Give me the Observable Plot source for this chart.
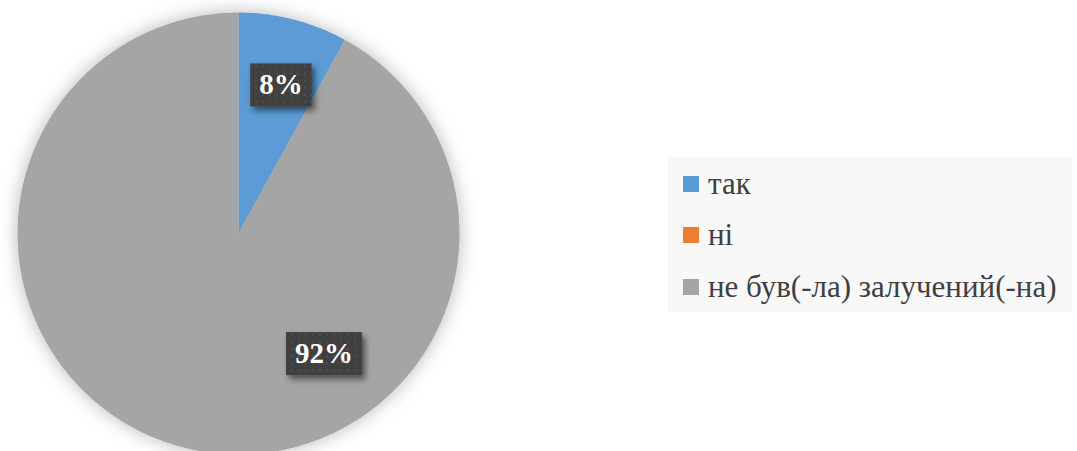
<!DOCTYPE html>
<html>
<head>
<meta charset="utf-8">
<script src="https://cdn.jsdelivr.net/npm/d3@7"></script>
<script src="https://cdn.jsdelivr.net/npm/@observablehq/plot@0.6"></script>
<style>
  html, body { margin: 0; padding: 0; background: #fff; }
  #wrap { position: relative; width: 1077px; height: 451px; overflow: hidden; }
  #legend {
    position: absolute; left: 668px; top: 157px; width: 404px; height: 155px;
    background: #f8f8f8; font-family: 'Liberation Serif';
    font-size: 31px; color: #404040;
  }
  .item { position: absolute; left: 15px; height: 30px; display: flex; align-items: center; white-space: nowrap; }
  .sw { width: 16px; height: 16px; margin-right: 9px; flex: none; }
</style>
</head>
<body>
<div id="wrap"></div>
<script>
const categories = ["так", "ні", "не був(-ла) залучений(-на)"];
const values = [8, 0, 92];
const colors = ["#5B9BD5", "#ED7D31", "#A5A5A5"];

// slice polygons derived from the values
const arcs = d3.pie().sort(null).value(d => d.value)(categories.map((c, i) => ({cat: c, value: values[i]})));
const pts = [];
for (const a of arcs) {
  if (a.endAngle - a.startAngle <= 0) continue;
  pts.push({cat: a.data.cat, x: 0, y: 0});
  const n = Math.max(2, Math.ceil((a.endAngle - a.startAngle) / (Math.PI / 360)));
  for (let k = 0; k <= n; k++) {
    const t = a.startAngle + (a.endAngle - a.startAngle) * k / n;
    pts.push({cat: a.data.cat, x: Math.sin(t), y: Math.cos(t)});
  }
  pts.push({cat: a.data.cat, x: 0, y: 0});
}
const total = d3.sum(values);
const labelData = arcs.filter(a => a.data.value > 0).map(a => {
  const m = (a.startAngle + a.endAngle) / 2;
  return {cat: a.data.cat, x: 0.7 * Math.sin(m), y: 0.7 * Math.cos(m), text: Math.round(a.data.value / total * 100) + "%"};
});

const textOpts = {x: "x", y: "y", text: "text", fill: "white", fontWeight: "bold", fontSize: 29,
  fontFamily: "Liberation Serif"};

const svg = Plot.plot({
  width: 1077, height: 451, margin: 0,
  style: {overflow: "visible", background: "transparent"},
  x: {domain: [-1, 1], range: [17, 459], axis: null},
  y: {domain: [-1, 1], range: [454, 12], axis: null},
  color: {domain: categories, range: colors},
  marks: [
    Plot.line(pts, {x: "x", y: "y", z: "cat", fill: "cat", stroke: null, curve: "linear"}),
    Plot.text(labelData.filter(d => d.cat === categories[0]), {...textOpts, dx: 4, dy: 1}),
    Plot.text(labelData.filter(d => d.cat === categories[2]), {...textOpts, dx: 124, dy: -30})
  ]
});

document.getElementById("wrap").append(svg);

const s = d3.select(svg);
const defs = s.insert("defs", ":first-child");
const f1 = defs.append("filter").attr("id", "pieShadow").attr("x", "-30%").attr("y", "-30%").attr("width", "160%").attr("height", "160%");
f1.append("feDropShadow").attr("dx", 0).attr("dy", 0).attr("stdDeviation", 9).attr("flood-color", "#000").attr("flood-opacity", 0.28);
const f2 = defs.append("filter").attr("id", "boxShadow").attr("x", "-30%").attr("y", "-30%").attr("width", "160%").attr("height", "160%");
f2.append("feDropShadow").attr("dx", 3).attr("dy", 4).attr("stdDeviation", 3).attr("flood-color", "#000").attr("flood-opacity", 0.55);
const pat = defs.append("pattern").attr("id", "dots").attr("width", 7).attr("height", 7).attr("patternUnits", "userSpaceOnUse");
pat.append("rect").attr("width", 7).attr("height", 7).attr("fill", "#404040");
pat.append("rect").attr("x", 2).attr("y", 2).attr("width", 2).attr("height", 2).attr("fill", "#505050");

s.selectAll('g[aria-label="line"]').attr("filter", "url(#pieShadow)");
s.selectAll('g[aria-label="text"] text').each(function () {
  const b = this.getBBox();
  const w = b.width + 18, h = 43;
  const cx = b.x + b.width / 2, cy = b.y + b.height / 2;
  const r = document.createElementNS("http://www.w3.org/2000/svg", "rect");
  r.setAttribute("x", cx - w / 2);
  r.setAttribute("y", cy - h / 2 + 1);
  r.setAttribute("width", w);
  r.setAttribute("height", h);
  r.setAttribute("fill", "url(#dots)");
  r.setAttribute("filter", "url(#boxShadow)");
  const tr = this.getAttribute("transform");
  if (tr) r.setAttribute("transform", tr);
  this.parentNode.insertBefore(r, this);
});

// legend
const legend = document.createElement("div");
legend.id = "legend";
categories.forEach((c, i) => {
  const it = document.createElement("div");
  it.className = "item";
  it.style.top = (11.5 + i * 51.5) + "px";
  const sw = document.createElement("span");
  sw.className = "sw";
  sw.style.background = colors[i];
  const tx = document.createElement("span");
  tx.textContent = c;
  it.append(sw, tx);
  legend.append(it);
});
document.getElementById("wrap").append(legend);
</script>
</body>
</html>
